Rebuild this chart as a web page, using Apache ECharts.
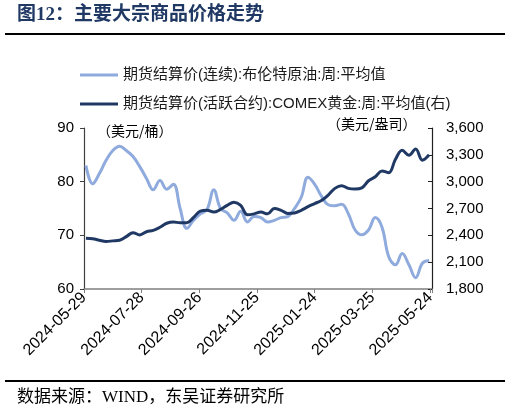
<!DOCTYPE html>
<html><head><meta charset="utf-8">
<script src="https://cdn.jsdelivr.net/npm/echarts@6/dist/echarts.min.js"></script>
<style>html,body{margin:0;padding:0;background:#fff}#c{width:510px;height:413px}</style>
</head><body><div id="c"></div>
<script>
const dates = ['2024-05-31','2024-06-07','2024-06-14','2024-06-21','2024-06-28','2024-07-05','2024-07-12','2024-07-19','2024-07-26',
'2024-08-02','2024-08-09','2024-08-16','2024-08-23','2024-08-30','2024-09-06','2024-09-13','2024-09-20','2024-09-27',
'2024-10-04','2024-10-11','2024-10-18','2024-10-25','2024-11-01','2024-11-08','2024-11-15','2024-11-22','2024-11-29',
'2024-12-06','2024-12-13','2024-12-20','2024-12-27','2025-01-03','2025-01-10','2025-01-17','2025-01-24','2025-01-31',
'2025-02-07','2025-02-14','2025-02-21','2025-02-28','2025-03-07','2025-03-14','2025-03-21','2025-03-28','2025-04-04',
'2025-04-11','2025-04-18','2025-04-25','2025-05-02','2025-05-09','2025-05-16','2025-05-23'];
const brent = [83.0,79.6,81.5,84.0,85.8,86.6,85.8,84.7,82.8,80.6,78.5,80.2,78.6,79.5,75.0,71.3,72.8,74.0,74.8,78.5,75.0,74.2,72.8,74.5,72.5,73.5,
73.3,72.5,72.8,73.3,73.5,75.0,77.1,80.8,79.5,77.3,75.7,75.5,75.8,74.0,71.0,70.1,71.0,73.3,71.5,66.0,64.5,66.6,64.5,62.1,64.8,65.3];
const gold = [2368,2362,2345,2332,2338,2345,2385,2430,2405,2440,2455,2490,2535,2550,2540,2540,2600,2670,2680,2660,2690,2735,2770,2735,2630,2640,
2660,2640,2700,2680,2645,2650,2680,2720,2755,2790,2850,2925,2955,2925,2917,2930,3010,3055,3120,3100,3250,3350,3295,3365,3240,3300];
const seriesNames = ['期货结算价(连续):布伦特原油:周:平均值','期货结算价(活跃合约):COMEX黄金:周:平均值(右)'];
const xStart = '2024-05-29';
const xEnd = '2025-05-26';
const xStepDays = 60;
const leftAxis = {min:60, max:90, interval:10};
const rightAxis = {min:1800, max:3600, interval:300};

const DAY = 864e5;
const x0 = Date.parse(xStart), x1 = Date.parse(xEnd), xi = xStepDays*DAY;
function fmtDate(v){const d=new Date(v);const p=n=>String(n).padStart(2,'0');return d.getUTCFullYear()+'-'+p(d.getUTCMonth()+1)+'-'+p(d.getUTCDate());}
const sans = '"Liberation Sans", Arial, "Noto Sans CJK SC", sans-serif';
const serif = '"Liberation Serif", "DejaVu Serif", "Noto Sans CJK SC", serif';

const chart = echarts.init(document.getElementById('c'), null, {renderer:'canvas'});
chart.setOption({
  animation:false,
  backgroundColor:'#fff',
  grid:{left:84, right:78, top:128, bottom:124, containLabel:false, outerBoundsMode:'none'},
  legend:{orient:'vertical', left:75, top:61, itemWidth:38, itemHeight:3, itemGap:11, icon:'rect',
    textStyle:{fontSize:15, color:'#1a1a1a', fontFamily:sans, lineHeight:18},
    data:seriesNames},
  xAxis:{type:'value', min:x0, max:x1, interval:xi,
    axisLine:{lineStyle:{color:'#7f7f7f', width:1.5}},
    axisTick:{show:true, length:4, lineStyle:{color:'#7f7f7f'}},
    splitLine:{show:false},
    axisLabel:{rotate:45, fontSize:16, color:'#000', fontFamily:sans, margin:6,
      formatter:v=>((v-x0)%xi===0?fmtDate(v):'')}},
  yAxis:[
    {type:'value', min:leftAxis.min, max:leftAxis.max, interval:leftAxis.interval, position:'left',
      axisLine:{show:true, lineStyle:{color:'#404040', width:1.2}},
      axisTick:{show:true, length:4, lineStyle:{color:'#404040'}},
      splitLine:{show:false},
      axisLabel:{fontSize:15, color:'#000', fontFamily:sans, margin:10}},
    {type:'value', min:rightAxis.min, max:rightAxis.max, interval:rightAxis.interval, position:'right',
      axisLine:{show:true, lineStyle:{color:'#202020', width:1.2}},
      axisTick:{show:true, inside:true, length:4, lineStyle:{color:'#202020'}},
      splitLine:{show:false},
      axisLabel:{fontSize:15, color:'#000', fontFamily:sans, margin:14,
        formatter:v=>v.toLocaleString('en-US')}}
  ],
  series:[
    {name:seriesNames[0], type:'line', yAxisIndex:0, showSymbol:false, smooth:0.4,
      lineStyle:{width:3, color:'#8FAADC'}, itemStyle:{color:'#8FAADC'},
      data:dates.map((d,i)=>[Date.parse(d), brent[i]])},
    {name:seriesNames[1], type:'line', yAxisIndex:1, showSymbol:false, smooth:0.4,
      lineStyle:{width:3, color:'#1F3864'}, itemStyle:{color:'#1F3864'},
      data:dates.map((d,i)=>[Date.parse(d), gold[i]])}
  ],
  graphic:[
    {type:'text', left:17, top:6, style:{text:'图12：主要大宗商品价格走势', font:'bold 19px '+serif, fill:'#1F3864'}},
    {type:'line', shape:{x1:5, y1:34, x2:505, y2:34}, style:{stroke:'#000', lineWidth:2}},
    {type:'text', left:97, top:124, style:{text:'（美元/桶）', font:'14px "Noto Sans CJK SC", sans-serif', fill:'#000'}},
    {type:'text', left:327, top:117, style:{text:'（美元/盎司）', font:'14px "Noto Sans CJK SC", sans-serif', fill:'#000'}},
    {type:'line', shape:{x1:5, y1:381, x2:505, y2:381}, style:{stroke:'#000', lineWidth:2}},
    {type:'text', left:17, top:389, style:{text:'数据来源：WIND，东吴证券研究所', font:'17px '+serif, fill:'#000'}}
  ]
});
</script></body></html>
